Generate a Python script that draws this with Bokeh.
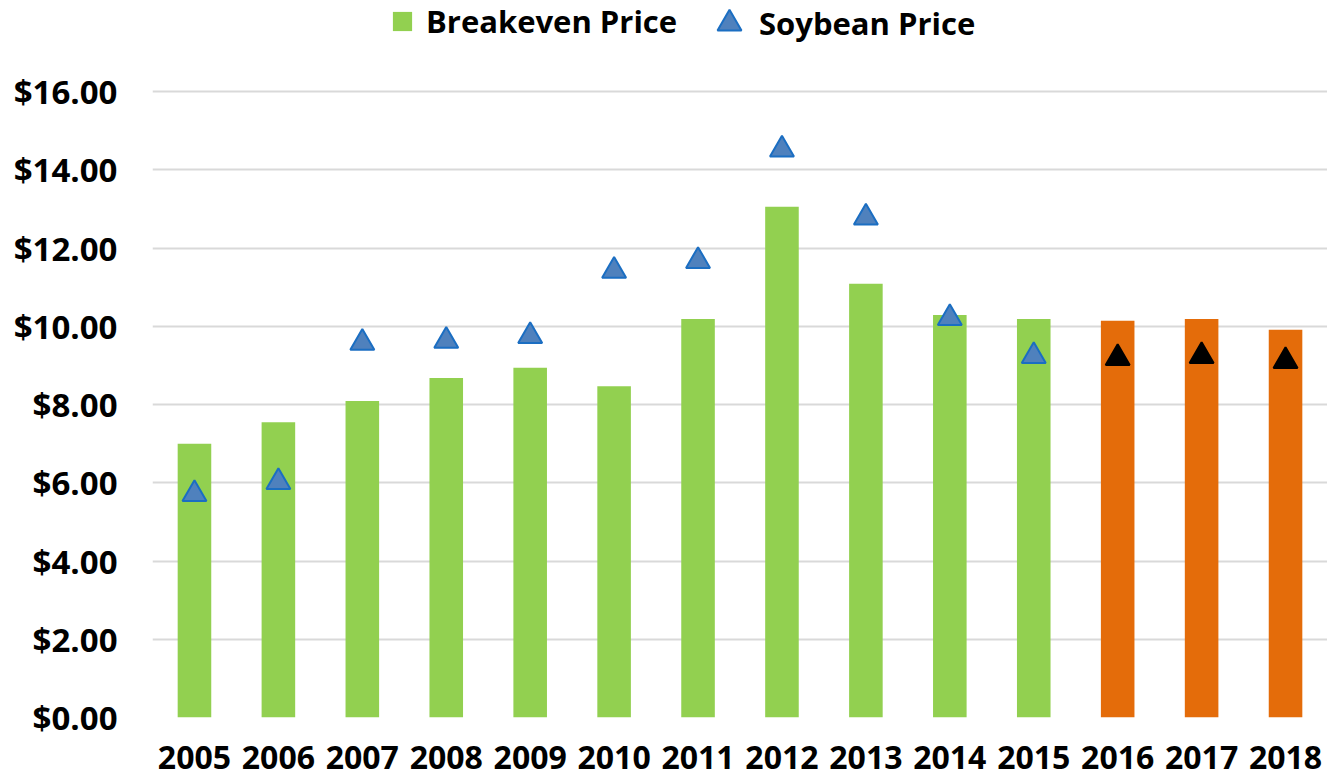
from bokeh.plotting import figure
from bokeh.models import ColumnDataSource, FactorRange, Range1d, Legend, LegendItem, NumeralTickFormatter, FixedTicker
from bokeh.embed import file_html
from bokeh.resources import INLINE

years = ["2005", "2006", "2007", "2008", "2009", "2010", "2011",
         "2012", "2013", "2014", "2015", "2016", "2017", "2018"]
breakeven = [7.00, 7.55, 8.09, 8.68, 8.94, 8.47, 10.19,
             13.06, 11.09, 10.29, 10.19, 10.14, 10.19, 9.91]
soybean = [5.71, 6.02, 9.58, 9.63, 9.75, 11.42, 11.67,
           14.52, 12.78, 10.21, 9.24, 9.19, 9.24, 9.11]
projected_years = ["2016", "2017", "2018"]
y_ticks = [0, 2, 4, 6, 8, 10, 12, 14, 16]

bar_colors = ["#E46C0A" if y in projected_years else "#92D050" for y in years]
tri_fill = ["#000000" if y in projected_years else "#4F81BD" for y in years]
tri_line = ["#000000" if y in projected_years else "#1B6EC2" for y in years]

src = ColumnDataSource(dict(x=years, b=breakeven, s=soybean,
                            bc=bar_colors, tf=tri_fill, tl=tri_line))

FONT = "Open Sans"

p = figure(width=1327, height=780, x_range=FactorRange(*years, range_padding=0),
           y_range=Range1d(0, 18.33), output_backend="svg", toolbar_location=None,
           min_border_left=152, min_border_right=0, min_border_top=0, min_border_bottom=63)
p.outline_line_color = None

bars = p.vbar(x="x", top="b", width=0.4, source=src, fill_color="bc", line_color=None)
tris = p.scatter(x="x", y="s", source=src, marker="triangle", size=24,
                 fill_color="tf", line_color="tl", line_width=2)

p.yaxis.ticker = FixedTicker(ticks=y_ticks)
p.yaxis.formatter = NumeralTickFormatter(format="$0.00")
for ax in (p.xaxis, p.yaxis):
    ax.axis_line_color = None
    ax.major_tick_line_color = None
    ax.minor_tick_line_color = None
    ax.major_label_text_font = FONT
    ax.major_label_text_font_style = "bold"
    ax.major_label_text_color = "#000000"
p.yaxis.major_label_text_font_size = "33px"
p.xaxis.major_label_text_font_size = "32px"
p.yaxis.major_label_standoff = 29
p.xaxis.major_label_standoff = 22
p.xgrid.grid_line_color = None
p.ygrid.grid_line_color = "#D9D9D9"
p.ygrid.grid_line_width = 2


def style_legend(lg):
    lg.label_text_font = FONT
    lg.label_text_font_style = "bold"
    lg.label_text_font_size = "31px"
    lg.label_text_color = "#000000"
    lg.border_line_color = None
    lg.background_fill_alpha = 0
    lg.margin = 0
    lg.padding = 0


leg1 = Legend(items=[LegendItem(label="Breakeven Price", renderers=[bars], index=0)],
              location=(238, 675))
style_legend(leg1)
leg1.glyph_width = 24
leg1.glyph_height = 24
leg1.label_standoff = 12
p.add_layout(leg1, "center")

leg2 = Legend(items=[LegendItem(label="Soybean Price", renderers=[tris], index=0)],
              location=(547, 664))
style_legend(leg2)
leg2.glyph_width = 60
leg2.glyph_height = 60
leg2.label_standoff = 0
p.add_layout(leg2, "center")

open("out.html", "w").write(file_html(p, INLINE))
